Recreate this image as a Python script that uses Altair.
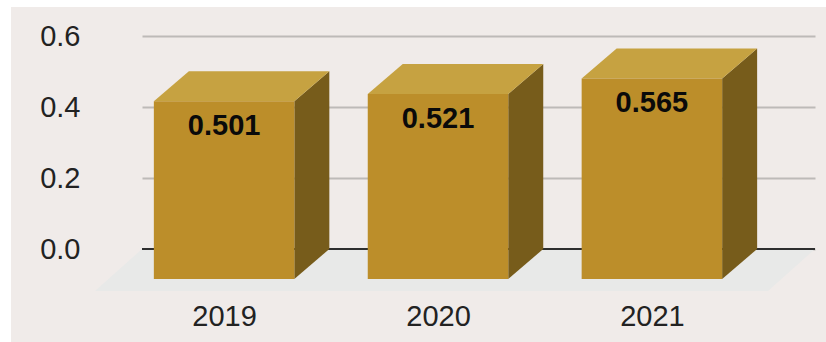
import altair as alt
import pandas as pd

# Chart values
years = ["2019", "2020", "2021"]
values = [0.501, 0.521, 0.565]

# Geometry of the extruded columns, in axis units
HALF_W = 0.3284
DEPTH_X = 0.1636
DEPTH_Y = 0.0845
X_DOMAIN = [-0.3838, 2.7625]
Y_DOMAIN = [-0.1183, 0.6]
FLOOR_SKEW = 0.2197

FRONT = "#bc8e2a"
TOP = "#c6a241"
SIDE = "#775c1b"
FLOOR = "#e8e9e8"
PANEL = "#f0ebe9"
GRID = "#bdbab8"
FONT = "Liberation Sans"

front_rows, top_rows, side_rows = [], [], []
for i, (year, v) in enumerate(zip(years, values)):
    x0, x1 = i - HALF_W, i + HALF_W
    front_rows.append({"year": year, "i": i, "x0": x0, "x1": x1, "y0": -DEPTH_Y,
                       "y1": v - DEPTH_Y, "value": v})
    for x, lo, hi in [
        (x0, v - DEPTH_Y, v - DEPTH_Y),
        (x0 + DEPTH_X, v - DEPTH_Y, v),
        (x1, v - DEPTH_Y, v),
        (x1 + DEPTH_X, v, v),
    ]:
        top_rows.append({"year": year, "x": x, "lo": lo, "hi": hi})
    side_rows.append({"year": year, "x": x1, "lo": -DEPTH_Y, "hi": v - DEPTH_Y})
    side_rows.append({"year": year, "x": x1 + DEPTH_X, "lo": 0.0, "hi": v})

floor_rows = [
    {"x": X_DOMAIN[0] - FLOOR_SKEW, "lo": Y_DOMAIN[0], "hi": Y_DOMAIN[0]},
    {"x": X_DOMAIN[0], "lo": Y_DOMAIN[0], "hi": 0.0},
    {"x": X_DOMAIN[1] - FLOOR_SKEW, "lo": Y_DOMAIN[0], "hi": 0.0},
    {"x": X_DOMAIN[1], "lo": 0.0, "hi": 0.0},
]

front_df = pd.DataFrame(front_rows)
top_df = pd.DataFrame(top_rows)
side_df = pd.DataFrame(side_rows)
floor_df = pd.DataFrame(floor_rows)
one = pd.DataFrame({"a": [0]})

W, H = 673, 255
x_scale = alt.Scale(domain=X_DOMAIN, nice=False, zero=False)
y_scale = alt.Scale(domain=Y_DOMAIN, nice=False, zero=False)

x_axis = alt.Axis(
    values=[0, 1, 2],
    labelExpr="['2019','2020','2021'][datum.value]",
    title=None, domain=False, ticks=False, grid=False,
    labelFont=FONT, labelFontSize=29, labelColor="#222222", labelPadding=11,
)
y_axis = alt.Axis(
    values=[0, 0.2, 0.4, 0.6], format=".1f",
    title=None, domain=False, ticks=False, grid=True,
    gridColor=GRID, gridWidth=2,
    labelFont=FONT, labelFontSize=29, labelColor="#222222", labelPadding=62,
)

floor = alt.Chart(floor_df).mark_area(color=FLOOR, clip=False).encode(
    x=alt.X("x:Q", scale=x_scale, axis=x_axis),
    y=alt.Y("lo:Q", scale=y_scale, axis=y_axis),
    y2="hi:Q",
)
baseline = alt.Chart(one).mark_rule(color="#2e2e2e", strokeWidth=2).encode(y=alt.datum(0))
side = alt.Chart(side_df).mark_area(color=SIDE).encode(
    x="x:Q", y="lo:Q", y2="hi:Q", detail="year:N"
)
top = alt.Chart(top_df).mark_area(color=TOP).encode(
    x="x:Q", y="lo:Q", y2="hi:Q", detail="year:N"
)
front = alt.Chart(front_df).mark_rect(color=FRONT).encode(
    x="x0:Q", x2="x1:Q", y="y0:Q", y2="y1:Q"
)
labels = alt.Chart(front_df).mark_text(
    font=FONT, fontSize=29, fontWeight="bold", color="#0a0a0a", dy=55, baseline="middle"
).encode(x="i:Q", y="value:Q", text=alt.Text("value:Q", format=".3f"))

# White margin along the left and top edges of the panel
margin_left = alt.Chart(one).mark_rect(color="white").encode(
    x=alt.value(-142), x2=alt.value(-131), y=alt.value(-36), y2=alt.value(306)
)
margin_top = alt.Chart(one).mark_rect(color="white").encode(
    x=alt.value(-142), x2=alt.value(684), y=alt.value(-36), y2=alt.value(-29)
)

chart = (
    alt.layer(floor, baseline, side, top, front, labels, margin_left, margin_top)
    .properties(
        width=W, height=H, background=PANEL,
        padding={"left": 142, "top": 36, "right": 11, "bottom": 51},
        autosize=alt.AutoSizeParams(type="none"),
    )
    .configure_view(stroke=None)
)

chart.save("out.html", embed_options={"renderer": "svg", "actions": False})
